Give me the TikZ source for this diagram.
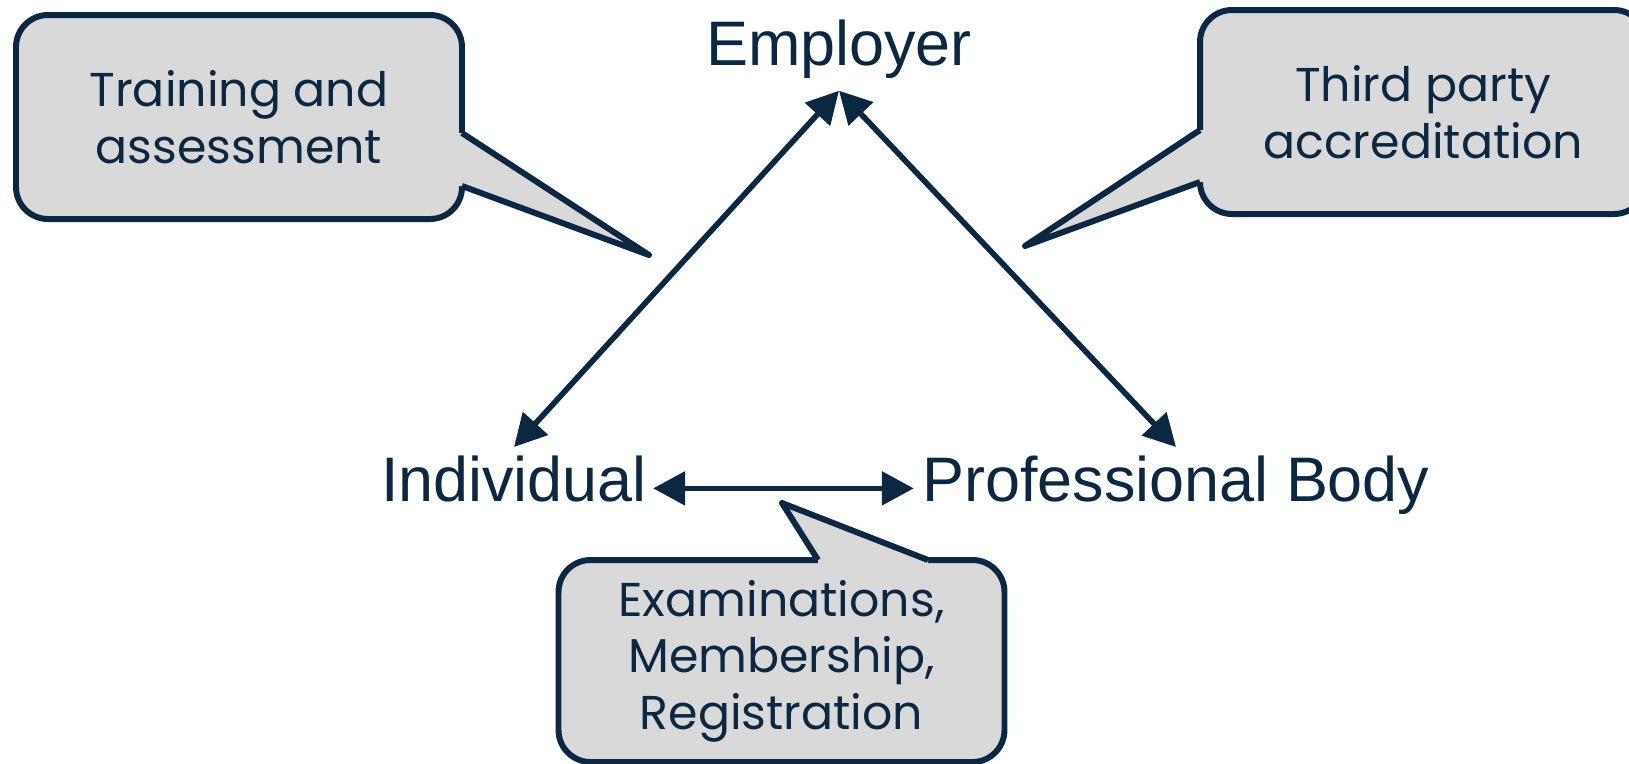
\documentclass[tikz,border=0pt]{standalone}
\usepackage{fontspec}
\setmainfont{Liberation Sans}
\newfontfamily\poppins{Poppins}
\usetikzlibrary{arrows.meta}
\definecolor{navy}{HTML}{0B2741}
\definecolor{bubblegray}{HTML}{D9D9D9}

\begin{document}
\begin{tikzpicture}[x=0.1mm,y=-0.1mm,
  party/.style={font=\fontsize{17.9}{20}\selectfont, text=navy, inner sep=0pt, text height=0.72em, text depth=0pt},
  bubble/.style={draw=navy, fill=bubblegray, line width=1.7pt, rounded corners=3.2mm,
    minimum width=44.6mm, minimum height=20.4mm, align=center, text=navy,
    font=\poppins\fontsize{13.5}{16.1}\selectfont},
  tail/.style={draw=navy, line width=1.7pt, line join=round},
  link/.style={navy, line width=1.6pt, {Triangle[length=3.2mm,width=3.3mm]}-{Triangle[length=3.2mm,width=3.3mm]}}]
\useasboundingbox (0,0) rectangle (1629,763);
% the three parties
\node[party, anchor=base] (employer) at (839,65) {Employer};
\node[party, anchor=base] (individual) at (514,501) {Individual};
\node[party, anchor=base] (probody) at (1176,501) {Professional Body};
\draw[link] ([yshift=2.8mm]individual.north) -- ([yshift=-2.5mm]employer.south);
\draw[link] ([yshift=-2.5mm]employer.south) -- ([yshift=2.8mm]probody.north);
\draw[link] ([xshift=0.55mm]individual.east) -- ([xshift=-0.8mm]probody.west);
% callouts
\node[bubble] (training) at (239,117) {Training and\\assessment};
\coordinate (trainingtip) at (649,255);
\fill[bubblegray] (455,133) -- (462,133) -- (trainingtip) -- (462,186) -- (455,186) -- cycle;
\draw[tail] (462,133) -- (trainingtip) -- (462,186);
\node[bubble] (accred) at (1423,112) {Third party\\accreditation};
\coordinate (accredtip) at (1025,246);
\fill[bubblegray] (1207,130) -- (1200,130) -- (accredtip) -- (1200,182) -- (1207,182) -- cycle;
\draw[tail] (1200,130) -- (accredtip) -- (1200,182);
\node[bubble, minimum height=20.2mm] (exams) at (781.5,661) {Examinations,\\Membership,\\Registration};
\coordinate (examstip) at (782,503);
\fill[bubblegray] (818,567) -- (818,560) -- (examstip) -- (928,560) -- (928,567) -- cycle;
\draw[tail] (818,560) -- (examstip) -- (928,560);
\end{tikzpicture}
\end{document}
